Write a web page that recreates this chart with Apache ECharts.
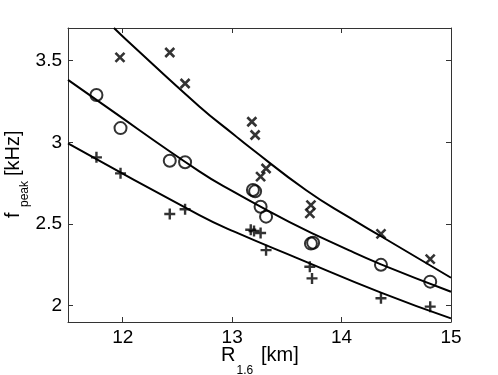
<!DOCTYPE html>
<html>
<head>
<meta charset="utf-8">
<script src="https://cdn.jsdelivr.net/npm/echarts@6/dist/echarts.min.js"></script>
<style>
  html, body { margin: 0; padding: 0; background: #fff; }
  #main { width: 498px; height: 375px; }
</style>
</head>
<body>
<div id="main"></div>
<script>
  // 数据
  var circleR = [11.76, 11.98, 12.43, 12.57, 13.19, 13.21, 13.26, 13.31, 13.72, 13.74, 14.36, 14.81];
  var circleF = [3.29, 3.087, 2.887, 2.878, 2.708, 2.70, 2.606, 2.545, 2.38, 2.385, 2.25, 2.147];

  var crossR = [11.975, 12.43, 12.57, 13.18, 13.21, 13.26, 13.31, 13.71, 13.72, 14.36, 14.81];
  var crossF = [3.52, 3.55, 3.36, 3.126, 3.045, 2.79, 2.84, 2.565, 2.616, 2.44, 2.285];

  var plusR = [11.76, 11.98, 12.43, 12.57, 13.17, 13.20, 13.26, 13.31, 13.71, 13.73, 14.36, 14.81];
  var plusF = [2.908, 2.81, 2.561, 2.59, 2.465, 2.457, 2.445, 2.34, 2.238, 2.167, 2.045, 1.994];

  // fitted curves
  var upperR = [11.92, 12.03, 12.70, 13.02, 13.16, 13.68, 14.07, 14.36, 15.0];
  var upperF = [3.70, 3.63, 3.22, 3.045, 2.97, 2.705, 2.54, 2.425, 2.171];
  var middleR = [11.5, 11.76, 12.70, 13.02, 13.525, 14.07, 14.36, 15.0];
  var middleF = [3.382, 3.26, 2.822, 2.695, 2.512, 2.338, 2.253, 2.085];
  var lowerR = [11.5, 12.70, 13.02, 13.6, 14.36, 15.0];
  var lowerF = [2.994, 2.555, 2.453, 2.29, 2.08, 1.922];

  var xTicks = [12, 13, 14, 15];
  var yTicks = [2, 2.5, 3, 3.5];

  function zip(a, b) {
    return a.map(function (v, i) { return [v, b[i]]; });
  }

  var font = '"Liberation Sans", Arial, Helvetica, sans-serif';
  var boxColor = '#333';

  function makeAxis(min, max, pos, ticks, showLabel) {
    var ax = {
      type: 'value',
      min: min,
      max: max,
      position: pos,
      axisLine: { show: true, onZero: false, lineStyle: { color: boxColor, width: 1 } },
      axisTick: { show: true, inside: true, length: 5, customValues: ticks, lineStyle: { color: boxColor } },
      axisLabel: { show: true, color: '#000', fontSize: 19, fontFamily: font, margin: 6, customValues: ticks },
      splitLine: { show: false }
    };
    if (!showLabel) {
      // 只要刻度, 不要标签
      ax.axisLabel.formatter = function () { return ''; };
    }
    return ax;
  }

  var myChart = echarts.init(document.getElementById('main'));

  var lineStyle = { color: '#000', width: 2 };

  var option = {
    animation: false,
    backgroundColor: '#fff',
    grid: { left: 68, right: 47, top: 28, bottom: 53 },
    xAxis: [makeAxis(11.5, 15, 'bottom', xTicks, true), makeAxis(11.5, 15, 'top', xTicks, false)],
    yAxis: [makeAxis(1.9, 3.7, 'left', yTicks, true), makeAxis(1.9, 3.7, 'right', yTicks, false)],
    series: [
      { type: 'line', data: zip(upperR, upperF), smooth: true, showSymbol: false, clip: true, lineStyle: lineStyle },
      { type: 'line', data: zip(middleR, middleF), smooth: true, showSymbol: false, clip: true, lineStyle: lineStyle },
      { type: 'line', data: zip(lowerR, lowerF), smooth: true, showSymbol: false, clip: true, lineStyle: lineStyle },
      {
        type: 'scatter', data: zip(circleR, circleF), symbol: 'circle', symbolSize: 12,
        itemStyle: { color: 'none', borderColor: '#000', borderWidth: 2 }
      },
      {
        type: 'scatter', data: zip(crossR, crossF), symbol: 'path://M0,0L10,10M0,10L10,0', symbolSize: 9,
        itemStyle: { color: 'none', borderColor: '#000', borderWidth: 2.6 }
      },
      {
        type: 'scatter', data: zip(plusR, plusF), symbol: 'path://M5,0L5,10M0,5L10,5', symbolSize: 11,
        itemStyle: { color: 'none', borderColor: '#000', borderWidth: 2.4 }
      }
    ],
    graphic: [
      // x 轴标题 R_1.6 [km]
      { type: 'text', x: 221, y: 355.5, style: { text: 'R', font: '20px ' + font, fill: '#000', verticalAlign: 'middle' } },
      { type: 'text', x: 236.5, y: 371, style: { text: '1.6', font: '12px ' + font, fill: '#000', verticalAlign: 'middle' } },
      { type: 'text', x: 261, y: 355.5, style: { text: '[km]', font: '20px ' + font, fill: '#000', verticalAlign: 'middle' } },
      // y 轴标题 f_peak [kHz]
      { type: 'text', x: 13.5, y: 218, rotation: Math.PI / 2, style: { text: 'f', font: '20px ' + font, fill: '#000', verticalAlign: 'middle' } },
      { type: 'text', x: 25, y: 207, rotation: Math.PI / 2, style: { text: 'peak', font: '12px ' + font, fill: '#000', verticalAlign: 'middle' } },
      { type: 'text', x: 13.5, y: 176, rotation: Math.PI / 2, style: { text: '[kHz]', font: '20px ' + font, fill: '#000', verticalAlign: 'middle' } }
    ]
  };
  myChart.setOption(option);
</script>
</body>
</html>
